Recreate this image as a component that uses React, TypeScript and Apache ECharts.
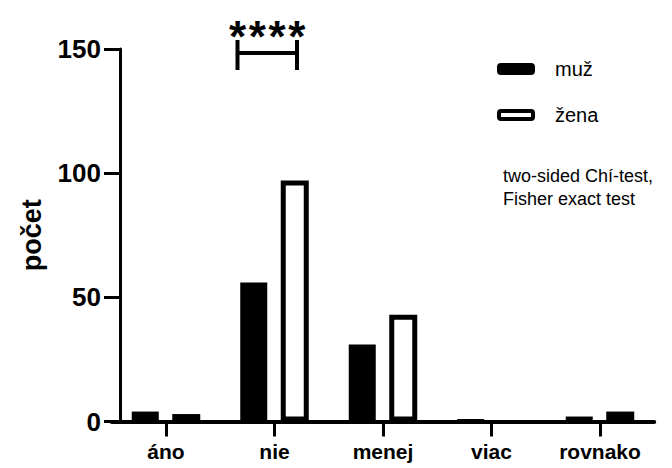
import React, { useEffect, useRef } from "react";
import * as echarts from "echarts";

const categories = ["áno", "nie", "menej", "viac", "rovnako"];
const muzValues = [4, 56, 31, 1, 2];
const zenaValues = [3, 97, 43, 0, 4];
const seriesNames = ["muž", "žena"];
const yTicks = [0, 50, 100, 150];
const yAxisTitle = "počet";
const noteLines = ["two-sided Chí-test,", "Fisher exact test"];
const significance = "****";

const FONT = "'Liberation Sans', Arial, sans-serif";

export default function App() {
  const ref = useRef<HTMLDivElement>(null);
  useEffect(() => {
    if (!ref.current) return;
    const chart = echarts.init(ref.current, undefined, { renderer: "svg" });
    const stars = significance.split("").map((s, i) => ({
      type: "text",
      x: 237.5 + i * 19.8,
      y: 36,
      style: {
        text: s,
        font: `bold 44px ${FONT}`,
        fill: "#000",
        align: "center",
        verticalAlign: "middle",
      },
    }));
    const option: any = {
      animation: false,
      backgroundColor: "#ffffff",
      textStyle: { fontFamily: FONT, color: "#000" },
      grid: { left: 111.75, right: 17.75, top: 49, bottom: 46.5, containLabel: false },
      legend: {
        orient: "vertical",
        left: 497,
        top: 59,
        padding: 0,
        itemWidth: 34,
        itemHeight: 8,
        itemGap: 26,
        textStyle: { fontFamily: FONT, fontSize: 20, color: "#000", padding: [0, 0, 0, 17] },
        data: [
          { name: seriesNames[0], itemStyle: { color: "#000", borderColor: "#000", borderWidth: 4 } },
          { name: seriesNames[1], itemStyle: { color: "#fff", borderColor: "#000", borderWidth: 4 } },
        ],
      },
      xAxis: {
        type: "category",
        data: categories,
        z: 5,
        axisLine: { lineStyle: { color: "#000", width: 4 } },
        axisTick: { show: true, length: 15, alignWithLabel: true, lineStyle: { color: "#000", width: 3 } },
        axisLabel: { fontFamily: FONT, fontSize: 21, fontWeight: "bold", color: "#000", margin: 19 },
      },
      yAxis: {
        type: "value",
        min: yTicks[0],
        max: yTicks[yTicks.length - 1],
        interval: yTicks[1] - yTicks[0],
        offset: -8.25,
        name: yAxisTitle,
        nameLocation: "middle",
        nameRotate: 90,
        nameGap: 75,
        nameTextStyle: { fontFamily: FONT, fontSize: 27, fontWeight: "bold", color: "#000" },
        splitLine: { show: false },
        axisLine: { show: true, lineStyle: { color: "#000", width: 3 } },
        axisTick: { show: true, length: 16, lineStyle: { color: "#000", width: 3 } },
        axisLabel: { fontFamily: FONT, fontSize: 26, fontWeight: "bold", color: "#000", margin: 19 },
      },
      series: [
        {
          name: seriesNames[0],
          type: "bar",
          barWidth: 27,
          barGap: "50%",
          data: muzValues,
          itemStyle: { color: "#000" },
        },
        {
          name: seriesNames[1],
          type: "bar",
          barWidth: 28,
          barGap: "50%",
          data: zenaValues.map((v) =>
            v === 0 ? { value: v, itemStyle: { borderWidth: 0, color: "rgba(0,0,0,0)" } } : v
          ),
          itemStyle: { color: "#fff", borderColor: "#000", borderWidth: 5 },
        },
      ],
      graphic: [
        {
          type: "text",
          left: 503,
          top: 164,
          style: {
            text: noteLines.join("\n"),
            font: `18px ${FONT}`,
            lineHeight: 23,
            fill: "#000",
          },
        },
        {
          type: "line",
          shape: { x1: 237.5, y1: 40, x2: 237.5, y2: 70 },
          style: { stroke: "#000", lineWidth: 4 },
        },
        {
          type: "line",
          shape: { x1: 297, y1: 40, x2: 297, y2: 70 },
          style: { stroke: "#000", lineWidth: 4 },
        },
        {
          type: "line",
          shape: { x1: 237.5, y1: 53, x2: 297, y2: 53 },
          style: { stroke: "#000", lineWidth: 4 },
        },
        ...stars,
      ],
    };
    chart.setOption(option);
    return () => chart.dispose();
  }, []);
  return <div ref={ref} style={{ position: "absolute", left: 0, top: 0, width: 672, height: 468 }} />;
}
